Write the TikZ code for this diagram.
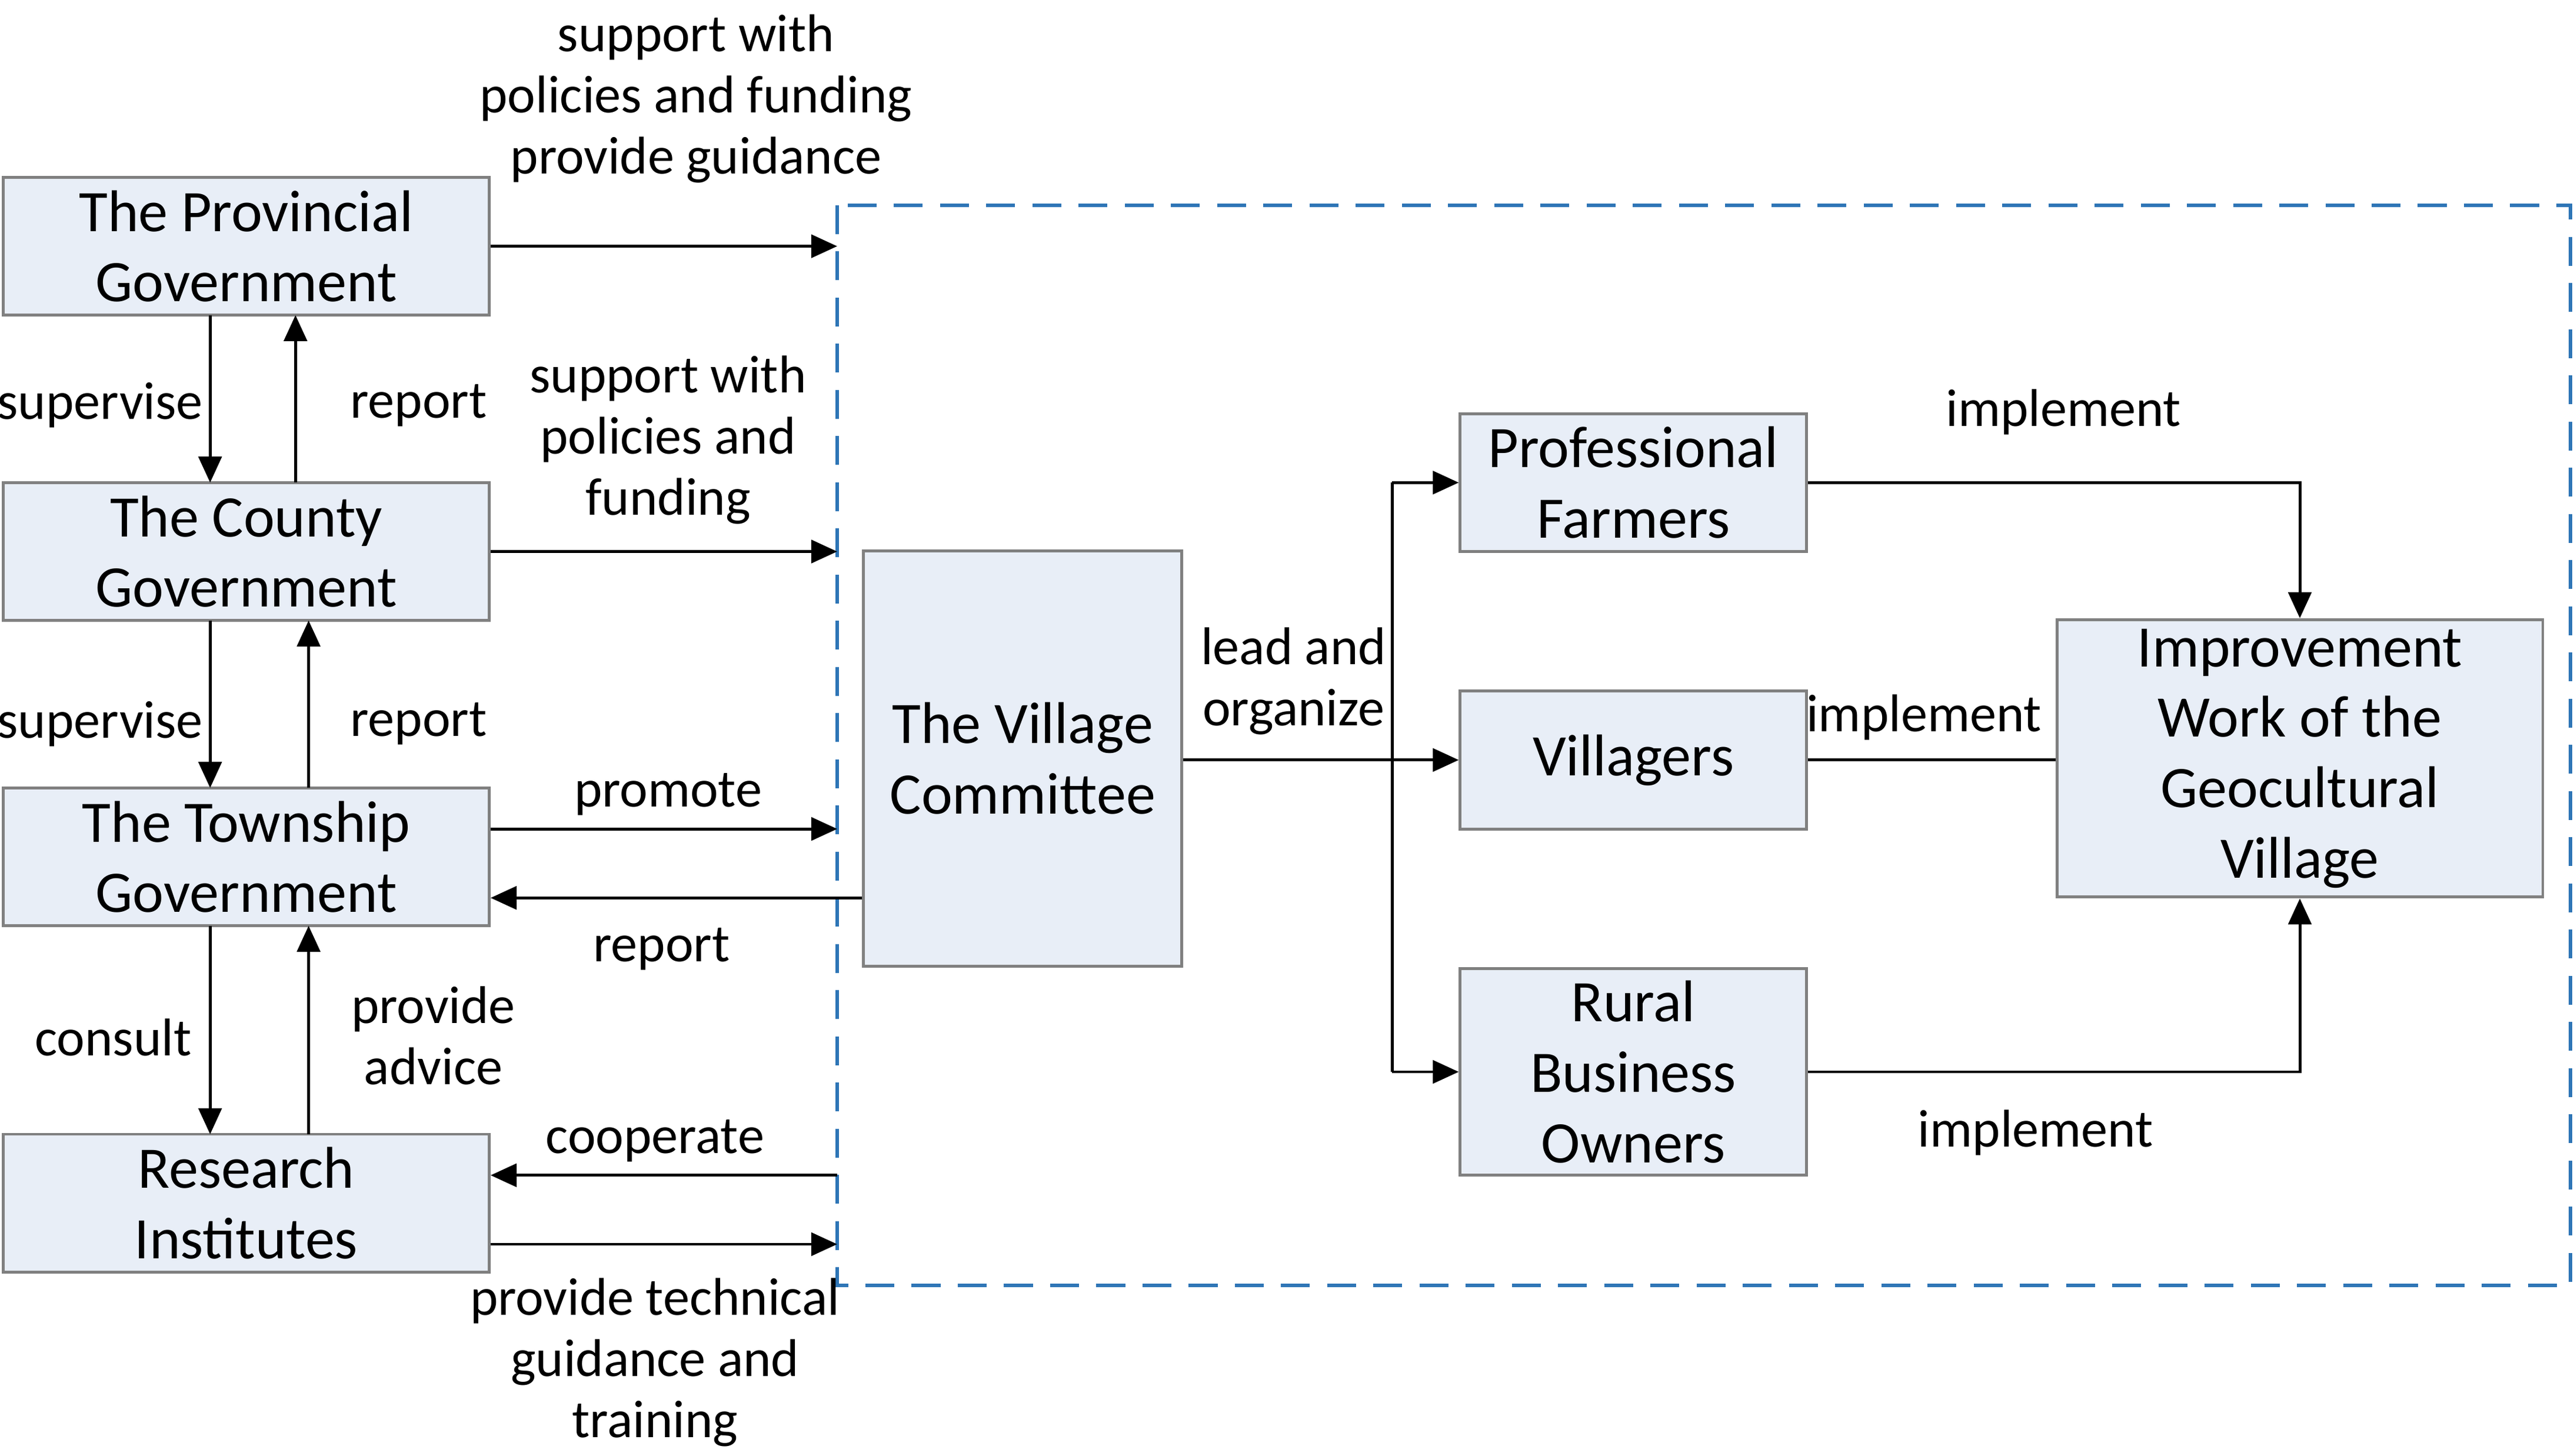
\documentclass[tikz,border=0pt]{standalone}
\usepackage{fontspec}
\setmainfont{Carlito}
\usetikzlibrary{arrows.meta}
\definecolor{boxfill}{HTML}{E8EEF7}
\definecolor{boxline}{HTML}{808080}
\definecolor{dashblue}{HTML}{2E75B6}
\begin{document}
\begin{tikzpicture}[x=0.01cm,y=-0.01cm,
  box/.style={draw=boxline,fill=boxfill,line width=0.5pt,inner sep=0pt,align=center,font=\fontsize{10.2}{12.2}\selectfont},
  lbl/.style={align=center,font=\fontsize{9.2}{10.6}\selectfont,inner sep=0pt},
  arr/.style={-{Triangle[length=4.5pt,width=4pt]},line width=0.5pt},
  ln/.style={line width=0.5pt}]
\useasboundingbox (0,0) rectangle (1568,887);
\tikzset{bx/.style args={#1/#2}{box,minimum width=#1*0.01cm,minimum height=#2*0.01cm}}
\node[bx=296/84] (prov) at (150,150) {The Provincial\\Government};
\node[bx=296/84] (county) at (150,336) {The County\\Government};
\node[bx=296/84] (town) at (150,522) {The Township\\Government};
\node[bx=296/84] (res) at (150,733) {Research\\Institutes};
\draw[dashblue,line width=0.6pt,dash pattern=on 5pt off 3pt] (510,125) rectangle (1566,783);
\coordinate (d1) at (510,150);
\coordinate (d2) at (510,336);
\coordinate (d3) at (510,505);
\coordinate (d4) at (510,716);
\coordinate (d5) at (510,758);
\node[bx=194/253] (vc) at (623,462) {The Village\\Committee};
\node[bx=211/84] (pf) at (995,294) {Professional\\Farmers};
\node[bx=211/84] (vil) at (995,463) {Villagers};
\node[bx=211/126] (rbo) at (995,653) {Rural\\Business\\Owners};
\node[bx=296/169] (imp) at (1401,462) {Improvement\\Work of the\\Geocultural\\Village};
% left column
\draw[arr] (prov.east|-d1) -- (d1);
\node[lbl] at (424,60) {support with\\policies and funding\\provide guidance};
\draw[arr] (128,192) -- (128,294);
\draw[arr] (180,294) -- (180,192);
\node[lbl] at (61,247) {supervise};
\node[lbl] at (255,247) {report};
\draw[arr] (county.east|-d2) -- (d2);
\node[lbl] at (407,268) {support with\\policies and\\funding};
\draw[arr] (128,378) -- (128,480);
\draw[arr] (188,480) -- (188,378);
\node[lbl] at (61,441) {supervise};
\node[lbl] at (255,441) {report};
\draw[arr] (town.east|-d3) -- (d3);
\node[lbl] at (407,484) {promote};
\draw[arr] (vc.west|-0,547) -- (town.east|-0,547);
\node[lbl] at (403,578) {report};
\draw[arr] (128,564) -- (128,691);
\draw[arr] (188,691) -- (188,564);
\node[lbl] at (69,632) {consult};
\node[lbl] at (264,631) {provide\\advice};
\draw[arr] (d4) -- (res.east|-d4);
\node[lbl] at (399,695) {cooperate};
\draw[arr] (res.east|-d5) -- (d5);
\node[lbl] at (399,830) {provide technical\\guidance and\\training};
% right part
\coordinate (br) at (848,463);
\draw[ln] (vc.east|-br) -- (br);
\draw[ln] (848,294) -- (848,653);
\draw[arr] (848,294) -- (pf.west);
\draw[arr] (br) -- (vil.west);
\draw[arr] (848,653) -- (rbo.west);
\node[lbl] at (788,415) {lead and\\organize};
\draw[arr] (pf.east) -| (imp.north);
\node[lbl] at (1257,251) {implement};
\draw[ln] (vil.east) -- (imp.west|-vil.east);
\node[lbl] at (1172,437) {implement};
\draw[arr] (rbo.east) -| (imp.south);
\node[lbl] at (1240,690) {implement};
\end{tikzpicture}
\end{document}
